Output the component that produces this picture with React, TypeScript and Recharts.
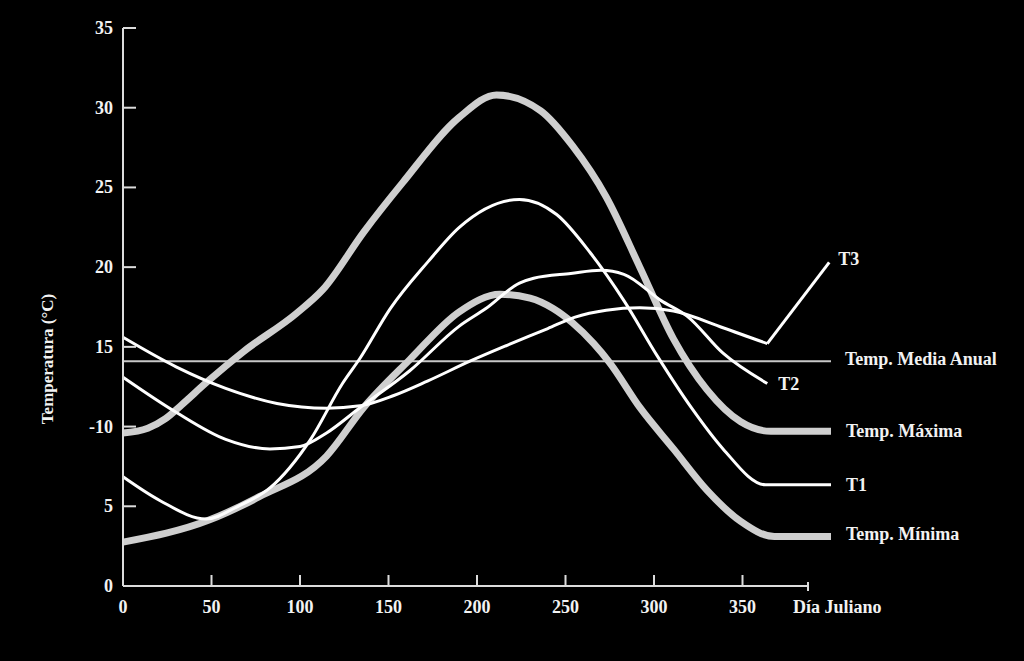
import { ComposedChart, Line, XAxis, YAxis, ReferenceLine } from "recharts";

// ejes
const xTicks = [0, 50, 100, 150, 200, 250, 300, 350];
const xAxisEnd = 387;
const xAxisTitle = "Día Juliano";
const yTicks = [0, 5, 10, 15, 20, 25, 30, 35];
const yTickLabels = ["0", "5", "-10", "15", "20", "25", "30", "35"];
const yAxisTitle = "Temperatura (°C)";

// temperatura media anual
const mediaAnual = 14.1;
const mediaLabel = "Temp. Media Anual";

// temperatura máxima
const maxDays = [0, 14, 24, 33, 47, 68, 98, 113, 136, 158, 190, 211, 236, 254, 273, 292, 311, 330, 349, 366, 400];
const maxTemps = [9.6, 9.9, 10.5, 11.35, 12.75, 14.7, 17.1, 18.6, 22.2, 25.3, 29.4, 30.8, 29.8, 27.6, 24.4, 20.0, 15.5, 12.3, 10.3, 9.7, 9.7];

// temperatura mínima
const minDays = [0, 49, 77, 115, 136, 162, 190, 213, 230, 243, 254, 266, 275, 292, 311, 330, 349, 368, 400];
const minTemps = [2.75, 4.15, 5.6, 8.15, 11.2, 14.2, 17.2, 18.3, 18.05, 17.4, 16.5, 15.2, 14.0, 11.2, 8.6, 6.0, 4.05, 3.1, 3.1];

// T1
const t1Days = [0, 21, 47, 65, 83, 106, 124, 134, 151, 172, 190, 224, 245, 264, 283, 302, 321, 339, 363, 400];
const t1Temps = [6.85, 5.35, 4.2, 5.0, 6.15, 9.2, 12.7, 14.3, 17.4, 20.3, 22.5, 24.25, 23.3, 20.9, 17.9, 14.4, 11.2, 8.6, 6.35, 6.35];

// T2
const t2Days = [0, 30, 58, 83, 100, 115, 134, 162, 190, 205, 224, 232, 253, 270, 283, 304, 319, 339, 364];
const t2Temps = [13.1, 10.9, 9.2, 8.6, 8.75, 9.6, 11.2, 13.5, 16.3, 17.4, 19.0, 19.3, 19.6, 19.8, 19.55, 17.9, 16.9, 14.6, 12.7];

// T3 (curva + tramo final recto)
const t3Days = [0, 30, 58, 87, 115, 134, 153, 172, 196, 217, 240, 255, 273, 292, 311, 339, 364];
const t3Temps = [15.6, 13.75, 12.4, 11.45, 11.15, 11.3, 11.95, 12.85, 14.1, 15.1, 16.15, 16.85, 17.3, 17.45, 17.25, 16.2, 15.2];
const t3TailDays = [364, 399];
const t3TailTemps = [15.2, 20.3];

const toPts = (d: number[], t: number[]) => d.map((day, i) => ({ day, temp: t[i] }));

const FONT = "'Liberation Serif', 'Times New Roman', serif";
const TXT = "#f2f2f2";
const AXIS = "#dcdcdc";
const THICK = "#cfcfcf";

function XTick({ x, y, payload }: any) {
  const v = payload.value;
  if (v === xAxisEnd) {
    return (
      <g>
        <line x1={x} x2={x} y1={y - 4} y2={y + 5} stroke={AXIS} strokeWidth={2} />
        <text x={x - 15} y={y + 27} textAnchor="start" fill={TXT} fontFamily={FONT} fontWeight="bold" fontSize={18}>
          {xAxisTitle}
        </text>
      </g>
    );
  }
  return (
    <g>
      <line x1={x} x2={x} y1={y} y2={y - 11} stroke={AXIS} strokeWidth={2} />
      <text x={x} y={y + 27} textAnchor="middle" fill={TXT} fontFamily={FONT} fontWeight="bold" fontSize={18}>
        {v}
      </text>
    </g>
  );
}

function YTick({ x, y, payload }: any) {
  const i = yTicks.indexOf(payload.value);
  return (
    <g>
      <line x1={x} x2={x + 13} y1={y} y2={y} stroke={AXIS} strokeWidth={2} />
      <text x={x - 10} y={y + 6} textAnchor="end" fill={TXT} fontFamily={FONT} fontWeight="bold" fontSize={18}>
        {yTickLabels[i]}
      </text>
    </g>
  );
}

// etiqueta al final de cada serie
const endLabel = (n: number, text: string, dx: number, dy = 0) => (p: any) => {
  if (p.index !== n - 1) return <g />;
  return (
    <text x={p.x + dx} y={p.y + dy} dominantBaseline="central" fill={TXT} fontFamily={FONT} fontWeight="bold" fontSize={18}>
      {text}
    </text>
  );
};

export default function App() {
  return (
    <div style={{ position: "fixed", left: 0, top: 0, width: 1024, height: 661, background: "#000" }}>
      <ComposedChart width={1024} height={661} margin={{ top: 28, right: 193, bottom: 35, left: 63 }}>
        <XAxis
          dataKey="day"
          type="number"
          domain={[0, 400]}
          ticks={[...xTicks, xAxisEnd]}
          interval={0}
          axisLine={false}
          tickLine={false}
          tickSize={0}
          tickMargin={0}
          height={40}
          tick={<XTick />}
        />
        <YAxis
          type="number"
          domain={[0, 35]}
          ticks={yTicks}
          interval={0}
          axisLine={{ stroke: AXIS, strokeWidth: 2 }}
          tickLine={false}
          tickSize={0}
          tickMargin={0}
          width={60}
          tick={<YTick />}
          label={{
            content: () => (
              <text x={47} y={359} transform="rotate(-90 47 359)" textAnchor="middle" dominantBaseline="central"
                fill={TXT} fontFamily={FONT} fontWeight="bold" fontSize={17}>
                {yAxisTitle}
              </text>
            ),
          }}
        />
        <ReferenceLine
          y={mediaAnual}
          stroke="#c8c8c8"
          strokeWidth={2}
          label={{
            content: (p: any) => (
              <text x={p.viewBox.x + p.viewBox.width + 14} y={p.viewBox.y - 2} dominantBaseline="central"
                fill={TXT} fontFamily={FONT} fontWeight="bold" fontSize={18}>
                {mediaLabel}
              </text>
            ),
          }}
        />
        <Line data={toPts(maxDays, maxTemps)} dataKey="temp" type="monotone" stroke={THICK} strokeWidth={7}
          dot={false} isAnimationActive={false} label={endLabel(maxDays.length, "Temp. Máxima", 15)} />
        <Line data={toPts(minDays, minTemps)} dataKey="temp" type="monotone" stroke={THICK} strokeWidth={7}
          dot={false} isAnimationActive={false} label={endLabel(minDays.length, "Temp. Mínima", 15, -3)} />
        <Line data={toPts(t1Days, t1Temps)} dataKey="temp" type="monotone" stroke="#fff" strokeWidth={3}
          dot={false} isAnimationActive={false} label={endLabel(t1Days.length, "T1", 15)} />
        <Line data={toPts(t2Days, t2Temps)} dataKey="temp" type="monotone" stroke="#fff" strokeWidth={3}
          dot={false} isAnimationActive={false} label={endLabel(t2Days.length, "T2", 11)} />
        <Line data={toPts(t3Days, t3Temps)} dataKey="temp" type="monotone" stroke="#fff" strokeWidth={3}
          dot={false} isAnimationActive={false} />
        <Line data={toPts(t3TailDays, t3TailTemps)} dataKey="temp" type="linear" stroke="#fff" strokeWidth={3}
          dot={false} isAnimationActive={false} label={endLabel(t3TailDays.length, "T3", 9, -3)} />
        <ReferenceLine segment={[{ x: 0, y: 0 }, { x: xAxisEnd, y: 0 }]} stroke={AXIS} strokeWidth={2} ifOverflow="visible" />
      </ComposedChart>
    </div>
  );
}
